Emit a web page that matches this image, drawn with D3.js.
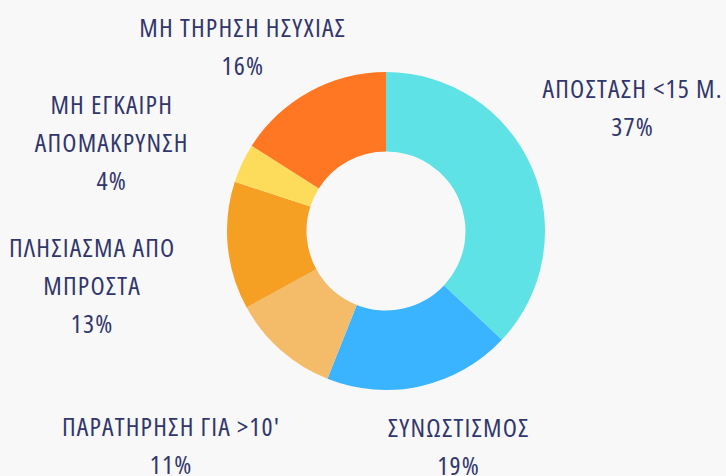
<!DOCTYPE html>
<html>
<head>
<meta charset="utf-8">
<script src="https://cdn.jsdelivr.net/npm/d3@7"></script>
<style>
	body { margin:0; background:#f8f8f8; }
	svg { display:block; }
	.lbl { font-family:"Open Sans", sans-serif; font-stretch:75%; font-size:26px; letter-spacing:1.2px; fill:#31366c; }
</style>
</head>
<body>
<div id="chart"></div>
<script>
// categories / values (clockwise from top)
var categories = ["ΑΠΟΣΤΑΣΗ <15 Μ.", "ΣΥΝΩΣΤΙΣΜΟΣ", "ΠΑΡΑΤΗΡΗΣΗ ΓΙΑ >10'", "ΠΛΗΣΙΑΣΜΑ ΑΠΟ|ΜΠΡΟΣΤΑ", "ΜΗ ΕΓΚΑΙΡΗ|ΑΠΟΜΑΚΡΥΝΣΗ", "ΜΗ ΤΗΡΗΣΗ ΗΣΥΧΙΑΣ"];
var values = [37, 19, 11, 13, 4, 16];
var colors = ["#5ee2e6", "#3ab4ff", "#f4bb69", "#f6a023", "#fedc5b", "#ff7722"];

var width = 726, height = 476;
var cx = 386, cy = 231;
var outerR = 159, innerR = 79.5;
var labelR = 260;
var lineH = 38;
// label nudges away from the plain polar position
var nudge = [[8,-20],[16,-38],[-43,20],[-35,30],[-39,23],[-18,44]];

var svg = d3.select("#chart").append("svg").attr("width",width).attr("height",height);
var g = svg.append("g").attr("transform","translate("+cx+","+cy+")");

var pie = d3.pie().sort(null).value(function(d){ return d; });
var arc = d3.arc().innerRadius(innerR).outerRadius(outerR);
var arcs = pie(values);

g.selectAll("path.slice")
	.data(arcs)
	.enter()
	.append("path")
	.attr("class","slice")
	.attr("d", arc)
	.attr("fill", function(d,i){ return colors[i]; });

var labelArc = d3.arc().innerRadius(labelR).outerRadius(labelR);

arcs.forEach(function(d,i){
	var c = labelArc.centroid(d);
	var lines = categories[i].split("|");
	lines.push(values[i]+"%");
	var x = c[0]+nudge[i][0], y = c[1]+nudge[i][1];
	var top = y - (lines.length-1)*lineH/2;
	var t = g.append("text").attr("class","lbl").attr("text-anchor","middle");
	lines.forEach(function(l,j){
		t.append("tspan").attr("x",x).attr("y",top+j*lineH).attr("dy","0.35em").text(l);
	});
});
</script>
</body>
</html>
